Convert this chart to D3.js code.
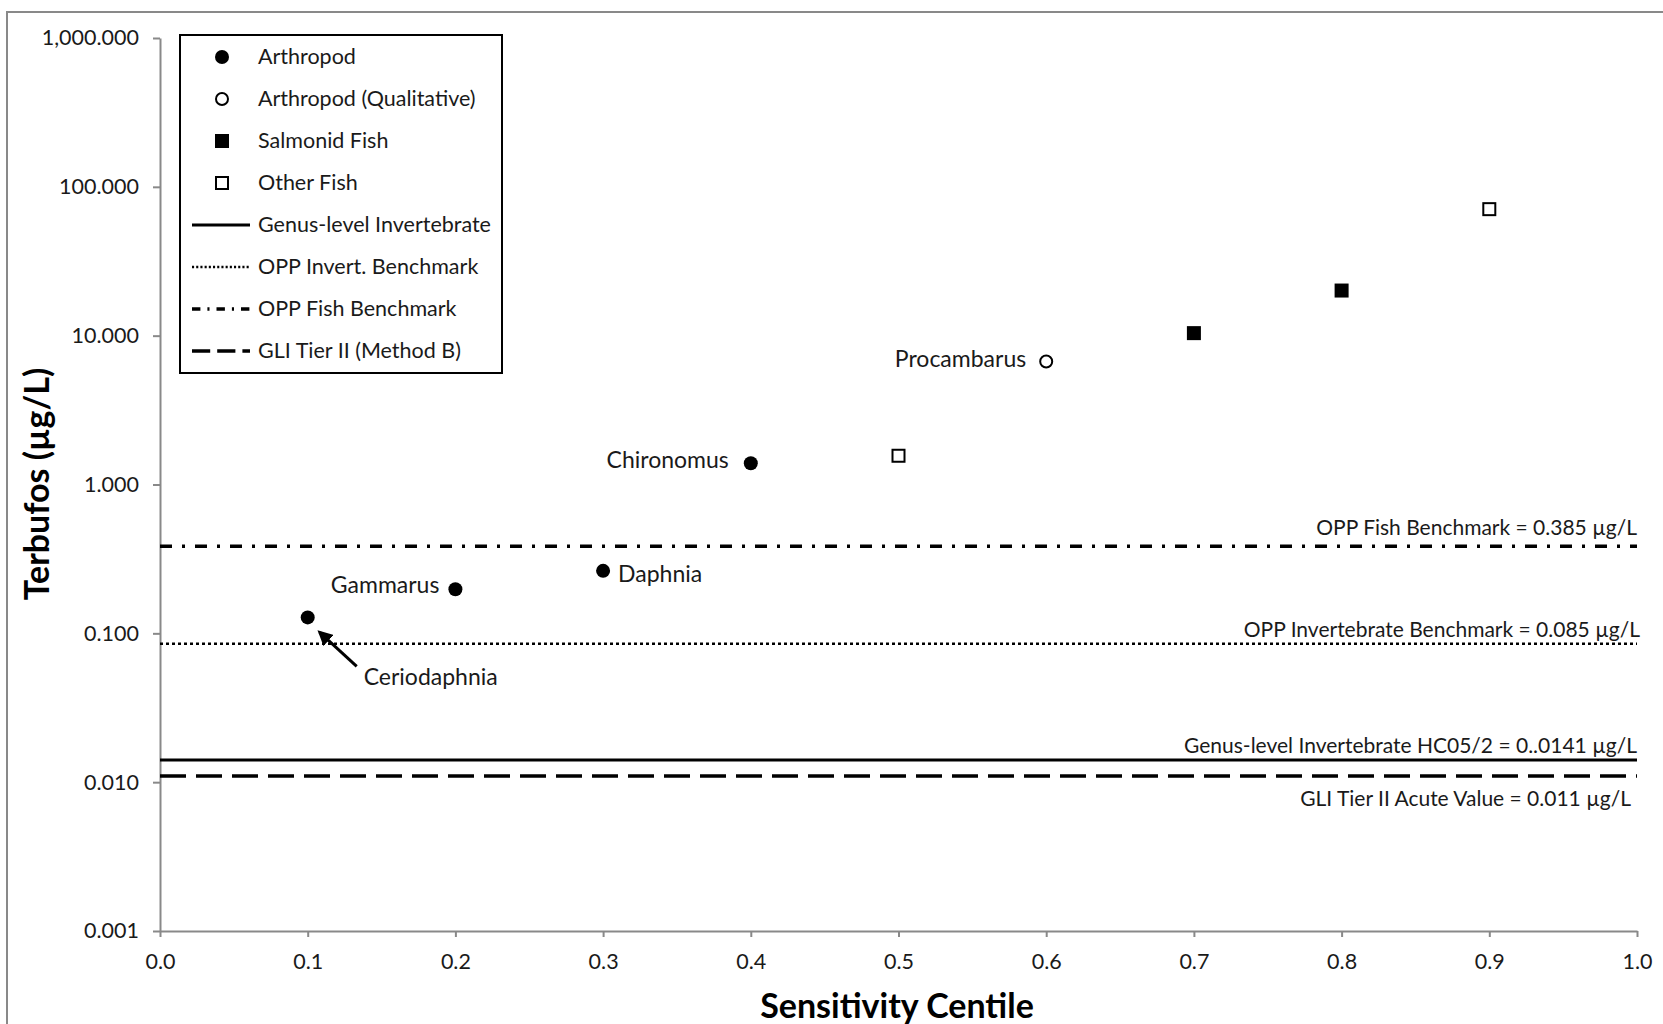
<!DOCTYPE html>
<html>
<head>
<meta charset="utf-8">
<script src="https://cdn.jsdelivr.net/npm/d3@7"></script>
<style>
  body { margin: 0; background: #fff; }
  svg text { font-family: Lato, "Open Sans", sans-serif; fill: #1a1a1a; }
  .axis path, .axis line { stroke: #898989; stroke-width: 2px; }
  .axis text { font-size: 21.5px; fill: #1a1a1a; }
</style>
</head>
<body>
<script>
// species points: sensitivity centile and Terbufos value (ug/L)
var centiles = [0.1, 0.2, 0.3, 0.4, 0.5, 0.6, 0.7, 0.8, 0.9];
var values = [0.128, 0.198, 0.263, 1.39, 1.56, 6.7, 10.4, 20.1, 70.8];
var groups = ["Arthropod", "Arthropod", "Arthropod", "Arthropod", "Other Fish",
              "Arthropod (Qualitative)", "Salmonid Fish", "Salmonid Fish", "Other Fish"];
var names = ["Ceriodaphnia", "Gammarus", "Daphnia", "Chironomus", "", "Procambarus", "", "", ""];

// reference lines
var lineNames = ["Genus-level Invertebrate", "OPP Invert. Benchmark", "OPP Fish Benchmark", "GLI Tier II (Method B)"];
var lineValues = [0.0141, 0.085, 0.385, 0.011];
var lineLabels = ["Genus-level Invertebrate  HC05/2 = 0..0141 \u00b5g/L",
                  "OPP Invertebrate  Benchmark = 0.085 \u00b5g/L",
                  "OPP Fish Benchmark = 0.385 \u00b5g/L",
                  "GLI Tier II Acute Value = 0.011 \u00b5g/L"];

var yTicks = [0.001, 0.01, 0.1, 1, 10, 100, 1000];
var xTicks = [0, 0.1, 0.2, 0.3, 0.4, 0.5, 0.6, 0.7, 0.8, 0.9, 1.0];
var markerNames = ["Arthropod", "Arthropod (Qualitative)", "Salmonid Fish", "Other Fish"];

var w = 1663, h = 1024;
var plotLeft = 160, plotRight = 1637, plotTop = 38, plotBottom = 931;

var svg = d3.select("body").append("svg")
  .attr("width", w)
  .attr("height", h);

// outer chart border
svg.append("rect")
  .attr("x", 7).attr("y", 12)
  .attr("width", w).attr("height", h)
  .attr("fill", "none")
  .attr("stroke", "#898989")
  .attr("stroke-width", 2);

var xScale = d3.scaleLinear().domain([0, 1]).range([plotLeft, plotRight]);
var yScale = d3.scaleLog().domain([0.001, 1000]).range([plotBottom, plotTop]);

var xAxis = d3.axisBottom(xScale)
  .tickValues(xTicks)
  .tickSizeInner(6)
  .tickSizeOuter(0)
  .tickPadding(17)
  .tickFormat(d3.format(".1f"));

var yAxis = d3.axisLeft(yScale)
  .tickValues(yTicks)
  .tickSizeInner(7)
  .tickSizeOuter(0)
  .tickPadding(14)
  .tickFormat(d3.format(",.3f"));

svg.append("g")
  .attr("class", "axis")
  .attr("transform", "translate(0," + plotBottom + ")")
  .call(xAxis);

svg.append("g")
  .attr("class", "axis")
  .attr("transform", "translate(" + plotLeft + ",0)")
  .call(yAxis);

// line styles
var dashes = {
  "Genus-level Invertebrate": null,
  "OPP Invert. Benchmark": "3,3",
  "OPP Fish Benchmark": "12,10,3,10",
  "GLI Tier II (Method B)": "26,10"
};
var widths = {
  "Genus-level Invertebrate": 3,
  "OPP Invert. Benchmark": 2.5,
  "OPP Fish Benchmark": 3.5,
  "GLI Tier II (Method B)": 3.5
};

svg.selectAll(".refline")
  .data(lineNames)
  .enter()
  .append("line")
  .attr("class", "refline")
  .attr("x1", xScale(0))
  .attr("x2", xScale(1))
  .attr("y1", (d, i) => yScale(lineValues[i]))
  .attr("y2", (d, i) => yScale(lineValues[i]))
  .attr("stroke", "#000")
  .attr("stroke-width", d => widths[d])
  .attr("stroke-dasharray", d => dashes[d]);

// labels for the reference lines (GLI goes below its line)
var labelShift = [-7, -7, -11, 30];
var labelEnd = [0, 3, 0, -6];
svg.selectAll(".reflabel")
  .data(lineLabels)
  .enter()
  .append("text")
  .attr("class", "reflabel")
  .attr("x", (d, i) => xScale(1) + labelEnd[i])
  .attr("y", (d, i) => yScale(lineValues[i]) + labelShift[i])
  .attr("text-anchor", "end")
  .style("font-size", "21px")
  .text(d => d);

// markers
function drawMarker(sel, g) {
  if (g == "Arthropod" || g == "Arthropod (Qualitative)") {
    sel.append("circle")
      .attr("r", g == "Arthropod" ? 7 : 6)
      .attr("fill", g == "Arthropod" ? "#000" : "#fff")
      .attr("stroke", "#000")
      .attr("stroke-width", g == "Arthropod" ? 0 : 2);
  } else {
    var s = g == "Salmonid Fish" ? 14 : 12;
    sel.append("rect")
      .attr("x", -s / 2).attr("y", -s / 2)
      .attr("width", s).attr("height", s)
      .attr("fill", g == "Salmonid Fish" ? "#000" : "#fff")
      .attr("stroke", "#000")
      .attr("stroke-width", g == "Salmonid Fish" ? 0 : 2);
  }
}

svg.selectAll(".dot")
  .data(values)
  .enter()
  .append("g")
  .attr("class", "dot")
  .attr("transform", (d, i) => "translate(" + xScale(centiles[i]) + "," + yScale(d) + ")")
  .each(function(d, i) { drawMarker(d3.select(this), groups[i]); });

// species labels
var nameDx = [56, -16, 15, -22, 0, -20, 0, 0, 0];
var nameDy = [68, 4, 11, 5, 0, 5, 0, 0, 0];
var nameAnchor = ["start", "end", "start", "end", "start", "end", "start", "start", "start"];
svg.selectAll(".name")
  .data(names)
  .enter()
  .append("text")
  .attr("class", "name")
  .attr("x", (d, i) => xScale(centiles[i]) + nameDx[i])
  .attr("y", (d, i) => yScale(values[i]) + nameDy[i])
  .attr("text-anchor", (d, i) => nameAnchor[i])
  .style("font-size", "23px")
  .text(d => d);

// arrow to Ceriodaphnia
svg.append("defs").append("marker")
  .attr("id", "arrow")
  .attr("viewBox", "0 0 10 10")
  .attr("refX", 8).attr("refY", 5)
  .attr("markerWidth", 5).attr("markerHeight", 5)
  .attr("orient", "auto")
  .append("path")
  .attr("d", "M0,0L10,5L0,10z")
  .attr("fill", "#000");

svg.append("line")
  .attr("x1", xScale(centiles[0]) + 49)
  .attr("y1", yScale(values[0]) + 49)
  .attr("x2", xScale(centiles[0]) + 12)
  .attr("y2", yScale(values[0]) + 15)
  .attr("stroke", "#000")
  .attr("stroke-width", 3)
  .attr("marker-end", "url(#arrow)");

// legend
var legend = svg.append("g").attr("transform", "translate(180,35)");
legend.append("rect")
  .attr("width", 322).attr("height", 338)
  .attr("fill", "#fff")
  .attr("stroke", "#000")
  .attr("stroke-width", 2);

var items = markerNames.concat(lineNames);
var rows = legend.selectAll(".legend")
  .data(items)
  .enter()
  .append("g")
  .attr("class", "legend")
  .attr("transform", (d, i) => "translate(0," + (22 + i * 42) + ")");

rows.each(function(d, i) {
  var row = d3.select(this);
  if (i < 4) {
    drawMarker(row.append("g").attr("transform", "translate(42,0)"), d);
  } else {
    row.append("line")
      .attr("x1", 12).attr("x2", 70)
      .attr("stroke", "#000")
      .attr("stroke-width", widths[d])
      .attr("stroke-dasharray", dashes[d] ? dashes[d].split(",").map(v => v * 0.7).join(",") : null);
  }
  row.append("text")
    .attr("x", 78)
    .attr("y", 7)
    .style("font-size", "21.5px")
    .text(d);
});

// axis titles
svg.append("text")
  .attr("transform", "translate(49,484) rotate(-90)")
  .attr("text-anchor", "middle")
  .style("font-size", "34px")
  .style("font-weight", "bold")
  .style("fill", "#000")
  .text("Terbufos (\u00b5g/L)");

svg.append("text")
  .attr("x", 897)
  .attr("y", 1018)
  .attr("text-anchor", "middle")
  .style("font-size", "34px")
  .style("font-weight", "bold")
  .style("fill", "#000")
  .text("Sensitivity Centile");
</script>
</body>
</html>
